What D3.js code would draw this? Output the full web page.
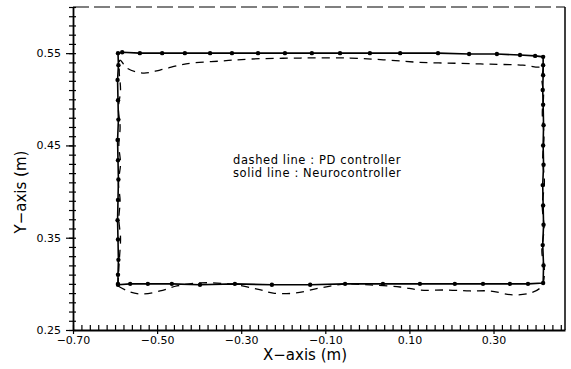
<!DOCTYPE html>
<html>
<head>
<meta charset="utf-8">
<script src="https://cdn.jsdelivr.net/npm/d3@7"></script>
<style>
  body { margin: 0; background: #fff; }
  text { font-family: "DejaVu Sans", sans-serif; fill: #000; }
</style>
</head>
<body>
<svg id="chart" width="571" height="369"></svg>
<script>
// tick labels
var xTickLabels = [-0.70, -0.50, -0.30, -0.10, 0.10, 0.30];
var yTickLabels = [0.25, 0.35, 0.45, 0.55];

// neurocontroller (solid line, dots) - bottom, right, top, left
var neuroX = [-0.593, -0.564, -0.522, -0.465, -0.398, -0.315, -0.227, -0.136, -0.053, 0.037, 0.125, 0.208, 0.275, 0.339, 0.382, 0.418,
  0.419, 0.417, 0.419, 0.418, 0.417, 0.419, 0.418, 0.419, 0.418, 0.417, 0.418, 0.418, 0.418,
  0.399, 0.363, 0.308, 0.242, 0.168, 0.078, 0.006, -0.065, -0.132, -0.196, -0.260, -0.322, -0.374, -0.434, -0.488, -0.541, -0.583, -0.593,
  -0.592, -0.594, -0.593, -0.592, -0.594, -0.593, -0.592, -0.593, -0.594, -0.593, -0.592, -0.593, -0.593];
var neuroY = [0.299, 0.300, 0.300, 0.300, 0.299, 0.300, 0.299, 0.299, 0.300, 0.300, 0.300, 0.300, 0.300, 0.300, 0.300, 0.301,
  0.320, 0.342, 0.364, 0.385, 0.407, 0.429, 0.450, 0.472, 0.494, 0.510, 0.526, 0.537, 0.546,
  0.547, 0.548, 0.549, 0.549, 0.550, 0.550, 0.550, 0.550, 0.550, 0.550, 0.550, 0.550, 0.550, 0.550, 0.550, 0.550, 0.551, 0.550,
  0.537, 0.521, 0.499, 0.478, 0.456, 0.434, 0.413, 0.391, 0.369, 0.348, 0.326, 0.310, 0.300];

// PD controller (dashed line)
var pdX = [-0.593, -0.564, -0.534, -0.493, -0.453, -0.398, -0.327, -0.262, -0.224, -0.172, -0.113, -0.053, 0.006, 0.078, 0.125, 0.189, 0.244, 0.292, 0.346, 0.387, 0.411, 0.418,
  0.421, 0.415, 0.420, 0.416, 0.421, 0.417, 0.420, 0.416, 0.419, 0.415, 0.418,
  0.411, 0.370, 0.292, 0.213, 0.125, 0.047, -0.041, -0.160, -0.279, -0.350, -0.417, -0.446, -0.493, -0.534, -0.572, -0.588,
  -0.590, -0.587, -0.592, -0.588, -0.591, -0.587, -0.592, -0.588, -0.591, -0.587, -0.590, -0.593];
var pdY = [0.2977, 0.2912, 0.2890, 0.2923, 0.2977, 0.3010, 0.2998, 0.2944, 0.2900, 0.2900, 0.2955, 0.2998, 0.2988, 0.2966, 0.2933, 0.2933, 0.2923, 0.2923, 0.2880, 0.2900, 0.2955, 0.3010,
  0.315, 0.335, 0.360, 0.385, 0.410, 0.435, 0.460, 0.485, 0.505, 0.522, 0.537,
  0.535, 0.537, 0.538, 0.539, 0.540, 0.5425, 0.5447, 0.5447, 0.5436, 0.5414, 0.5393, 0.537, 0.5317, 0.5284, 0.5339, 0.5425,
  0.530, 0.510, 0.490, 0.470, 0.450, 0.430, 0.410, 0.390, 0.370, 0.350, 0.325, 0.300];

var legendLines = ["dashed line : PD controller", "solid line : Neurocontroller"];

var svg = d3.select("#chart");
var plotLeft = 73, plotRight = 565, plotTop = 7, plotBottom = 330;

var x = d3.scaleLinear().domain([-0.70, 0.47]).range([plotLeft, plotRight]);
var y = d3.scaleLinear().domain([0.25, 0.60]).range([plotBottom, plotTop]);

// frame: dashed top, solid right
svg.append("line").attr("x1", plotLeft).attr("x2", plotRight).attr("y1", plotTop).attr("y2", plotTop)
  .attr("stroke", "#000").attr("stroke-width", 1.2).attr("stroke-dasharray", "16,5");
svg.append("line").attr("x1", plotRight).attr("x2", plotRight).attr("y1", plotTop).attr("y2", plotBottom)
  .attr("stroke", "#000").attr("stroke-width", 1.5);

// x axis: minor ticks up, labelled ticks down
var xMinor = d3.range(-0.70, 0.4701, 0.02);
var gx = svg.append("g").attr("transform", "translate(0," + plotBottom + ")");
gx.call(d3.axisBottom(x).tickValues(xMinor).tickSize(-5).tickFormat("").tickSizeOuter(0));
var gx2 = svg.append("g").attr("transform", "translate(0," + plotBottom + ")");
gx2.call(d3.axisBottom(x).tickValues(xTickLabels).tickSize(4).tickPadding(2).tickSizeOuter(0)
  .tickFormat(function (d) { return d3.format(".2f")(d).replace("-", "\u2212"); }));
gx2.select(".domain").remove();
gx.select(".domain").attr("stroke-width", 1.8);
gx2.selectAll("text").attr("font-size", 11);

// y axis
var yMinor = d3.range(0.25, 0.6001, 0.01);
var gy = svg.append("g").attr("transform", "translate(" + plotLeft + ",0)");
gy.call(d3.axisLeft(y).tickValues(yMinor).tickSize(4).tickFormat("").tickSizeOuter(0));
var gy3 = svg.append("g").attr("transform", "translate(" + plotLeft + ",0)");
gy3.call(d3.axisLeft(y).tickValues(yMinor).tickSize(-3).tickFormat("").tickSizeOuter(0));
gy3.select(".domain").remove();
var gy2 = svg.append("g").attr("transform", "translate(" + plotLeft + ",0)");
gy2.call(d3.axisLeft(y).tickValues(yTickLabels).tickSize(7).tickPadding(5).tickSizeOuter(0)
  .tickFormat(d3.format(".2f")));
gy2.select(".domain").remove();
gy.select(".domain").attr("stroke-width", 1.8);
svg.selectAll("g.tick line").attr("stroke-width", 1.2);
gy2.selectAll("text").attr("font-size", 11);

// axis titles
svg.append("text").attr("x", 305).attr("y", 360).attr("text-anchor", "middle")
  .attr("font-size", 15).text("X\u2212axis  (m)");
svg.append("text").attr("transform", "translate(26,192) rotate(-90)").attr("text-anchor", "middle")
  .attr("font-size", 15).text("Y\u2212axis  (m)");

// legend text
svg.selectAll("text.legend").data(legendLines).enter().append("text")
  .attr("class", "legend")
  .attr("x", 233).attr("y", function (d, i) { return 164 + i * 13; })
  .attr("font-size", 11.5).attr("letter-spacing", 0.6)
  .text(function (d) { return d; });

var neuro = neuroX.map(function (d, i) { return [d, neuroY[i]]; });
var pd = pdX.map(function (d, i) { return [d, pdY[i]]; });

var line = d3.line().x(function (d) { return x(d[0]); }).y(function (d) { return y(d[1]); });

svg.append("path").datum(pd)
  .attr("d", line.curve(d3.curveCatmullRom))
  .attr("fill", "none").attr("stroke", "#000").attr("stroke-width", 1.3)
  .attr("stroke-dasharray", "8,6");

svg.append("path").datum(neuro)
  .attr("d", line.curve(d3.curveLinear))
  .attr("fill", "none").attr("stroke", "#000").attr("stroke-width", 1.6);

svg.selectAll("circle.dot").data(neuro).enter().append("circle")
  .attr("class", "dot")
  .attr("cx", function (d) { return x(d[0]); })
  .attr("cy", function (d) { return y(d[1]); })
  .attr("r", 2.2).attr("fill", "#000");
</script>
</body>
</html>
